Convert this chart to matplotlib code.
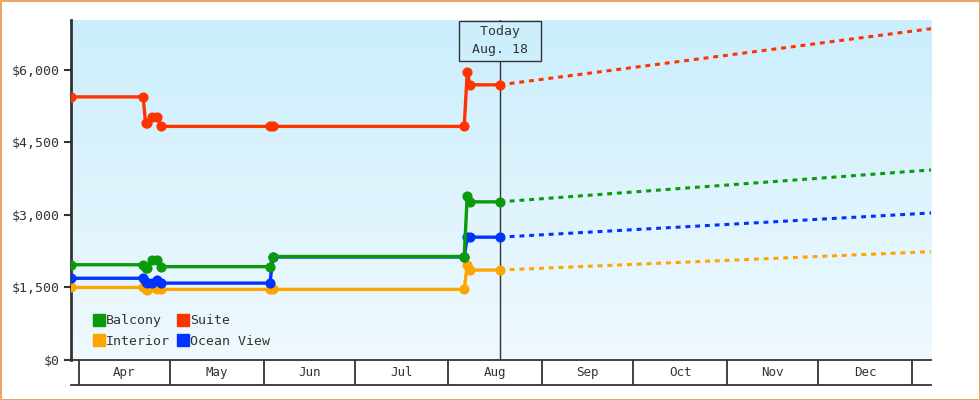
import numpy as np
import pandas as pd
import matplotlib
matplotlib.use("Agg")
import matplotlib.pyplot as plt
import matplotlib.dates as mdates
import matplotlib.transforms as mtransforms
from matplotlib.patches import Rectangle
from matplotlib.lines import Line2D
from matplotlib.colors import LinearSegmentedColormap
from matplotlib.ticker import FuncFormatter

# --- price history (observation dates shared by all cabin types) ---
obs_dates = pd.to_datetime([
    "2024-03-29 09:00", "2024-04-22 05:00", "2024-04-23 00:00", "2024-04-23 14:00",
    "2024-04-25 00:00", "2024-04-26 20:00", "2024-04-28 02:00", "2024-06-03 02:00",
    "2024-06-04 01:00", "2024-08-06 05:00", "2024-08-07 05:00", "2024-08-08 02:00",
    "2024-08-18 00:00",
])
suite      = [5440, 5440, 4890, 4910, 5030, 5030, 4830, 4830, 4830, 4830, 5950, 5690, 5690]
balcony    = [1970, 1970, 1900, 1900, 2060, 2060, 1930, 1930, 2140, 2140, 3400, 3270, 3270]
ocean_view = [1690, 1690, 1610, 1590, 1600, 1650, 1590, 1590, 2130, 2130, 2545, 2540, 2540]
interior   = [1500, 1500, 1470, 1450, 1500, 1470, 1460, 1460, 1460, 1460, 1965, 1860, 1860]

# --- forecast end values ---
today = pd.Timestamp("2024-08-18")
x_start = pd.Timestamp("2024-03-29 09:00")
x_end = pd.Timestamp("2025-01-07 08:00")
forecast_end = {"Suite": 6850, "Balcony": 3930, "Ocean View": 3040, "Interior": 2240}

months = pd.date_range("2024-04-01", "2025-01-01", freq="MS")
month_names = ["Apr", "May", "Jun", "Jul", "Aug", "Sep", "Oct", "Nov", "Dec"]
yticks = [0, 1500, 3000, 4500, 6000]

series = [
    ("Suite", suite, "#ff3300"),
    ("Balcony", balcony, "#0a9a0a"),
    ("Ocean View", ocean_view, "#0033ff"),
    ("Interior", interior, "#ffa500"),
]
colors = {name: c for name, _, c in series}

plt.rcParams["font.family"] = ["DejaVu Sans Mono"]
plt.rcParams["font.size"] = 9
dark = "#333333"

fig = plt.figure(figsize=(9.8, 4.0), dpi=100)
ax = fig.add_axes([71 / 980, 40 / 400, 860 / 980, 340 / 400])

# gradient background
grad_cmap = LinearSegmentedColormap.from_list("bg", ["#f0f9fe", "#cbeefc"])
ax.imshow(np.linspace(0, 1, 256).reshape(-1, 1), extent=[0, 1, 0, 1],
          transform=ax.transAxes, aspect="auto", cmap=grad_cmap,
          origin="lower", zorder=0)

# today line
ax.axvline(today, color=dark, lw=1, zorder=2)

# draw from back to front: interior, ocean view, balcony, suite
for name, vals, c in series[::-1]:
    ax.plot([today, x_end], [vals[-1], forecast_end[name]], color=c, lw=2.2,
            ls=(0, (1.6, 1.6)), zorder=3)
    ax.plot(obs_dates, vals, color=c, lw=2.4, marker="o", ms=6.3, zorder=4)

ax.set_xlim(x_start, x_end)
ax.set_ylim(0, 7030)

ax.set_yticks(yticks)
ax.yaxis.set_major_formatter(FuncFormatter(lambda v, p: f"${v:,.0f}"))
ax.tick_params(axis="y", direction="out", length=5, width=1.5, color=dark,
               labelcolor=dark, labelsize=9.5, pad=3)
ax.tick_params(axis="x", bottom=False, labelbottom=False)
for s in ["top", "right"]:
    ax.spines[s].set_visible(False)
ax.spines["left"].set_color(dark)
ax.spines["left"].set_linewidth(2)
ax.spines["bottom"].set_color(dark)
ax.spines["bottom"].set_linewidth(1.3)

# month strip below the axis
trans = mtransforms.blended_transform_factory(ax.transData, ax.transAxes)
box_h = 25 / 340
ax.plot([x_start, x_end], [-box_h, -box_h], color=dark, lw=1.3,
        transform=trans, clip_on=False)
ax.vlines(mdates.date2num(months), -box_h, 0, color=dark, lw=1.3,
          transform=trans, clip_on=False)
for i, name in enumerate(month_names):
    mid = months[i] + (months[i + 1] - months[i]) / 2
    ax.text(mid, -box_h / 2, name, ha="center", va="center", color=dark,
            fontsize=9, transform=trans, clip_on=False)

# today label
ax.text(today, 0.984, " Today \n Aug. 18 ", ha="center", va="top", color=dark,
        fontsize=9.5, linespacing=1.45, transform=trans, zorder=6,
        bbox=dict(boxstyle="square,pad=0.35", facecolor="#cdeffc",
                  edgecolor=dark, lw=1))

# legend
handles = [Line2D([], [], marker="s", ls="", color=colors[n], ms=9)
           for n in ["Balcony", "Interior", "Suite", "Ocean View"]]
ax.legend(handles, ["Balcony", "Interior", "Suite", "Ocean View"], ncol=2,
          loc="lower left", bbox_to_anchor=(0.027, 0.035), frameon=False,
          handlelength=0.8, handletextpad=0.1, columnspacing=0.6,
          labelspacing=0.6, borderpad=0, borderaxespad=0, fontsize=9.5,
          labelcolor=dark)

# orange outer border
fig.patches.append(Rectangle((0, 0), 1, 1, transform=fig.transFigure,
                             fill=False, edgecolor="#e8a765", lw=2.2))

fig.savefig("out.png", dpi=100)
